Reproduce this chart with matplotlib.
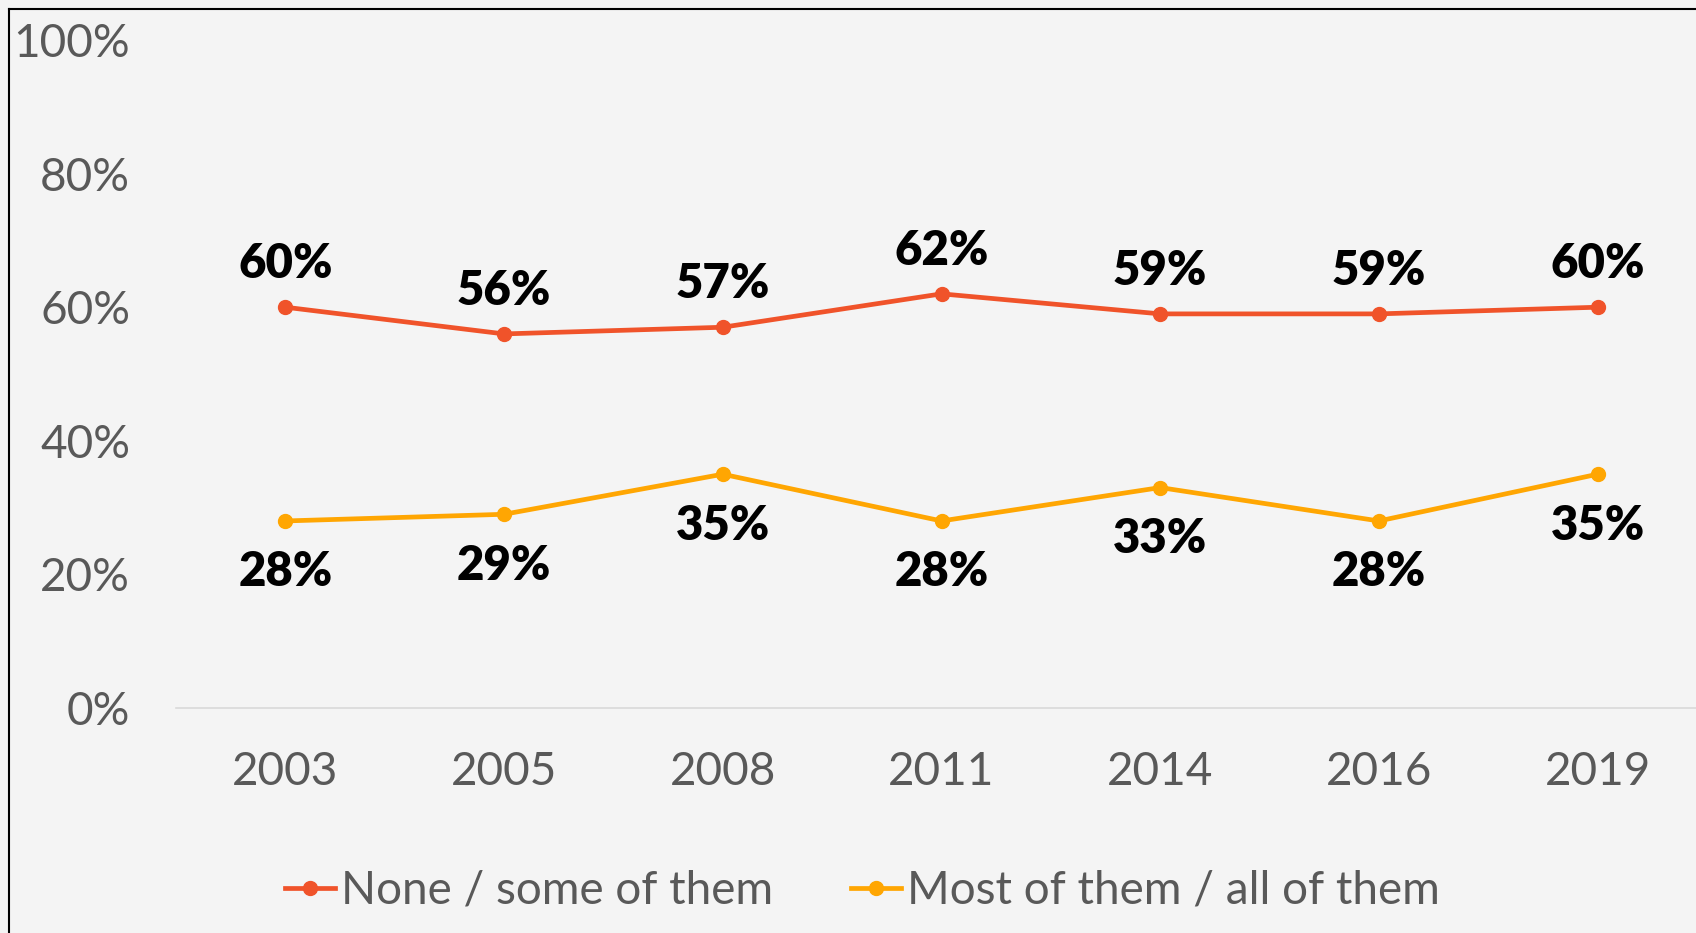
import matplotlib
matplotlib.use("Agg")
import matplotlib.pyplot as plt
from matplotlib.lines import Line2D

# survey results, share of respondents
years = ["2003", "2005", "2008", "2011", "2014", "2016", "2019"]
none_some = [60, 56, 57, 62, 59, 59, 60]
most_all = [28, 29, 35, 28, 33, 28, 35]
series_names = ["None / some of them", "Most of them / all of them"]
y_ticks = [0, 20, 40, 60, 80, 100]

red = "#F0532A"
orange = "#FFA602"
grey = "#595959"

plt.rcParams["font.family"] = ["Lato", "DejaVu Sans"]

fig = plt.figure(figsize=(16.96, 9.33), dpi=100)
fig.patch.set_facecolor("#F4F4F4")

W, H = 1696, 933
ax = fig.add_axes([176 / W, (H - 708) / H, (1707 - 176) / W, (708 - 40) / H])
ax.set_facecolor("none")

x = range(len(years))
ax.plot(x, none_some, color=red, lw=3.4, marker="o", ms=10, label=series_names[0])
ax.plot(x, most_all, color=orange, lw=3.4, marker="o", ms=10, label=series_names[1])

for i, v in enumerate(none_some):
    ax.annotate(f"{v}%", (i, v), xytext=(0, 31), textcoords="offset points",
                ha="center", va="center", fontsize=34, fontweight="heavy", color="black")
for i, v in enumerate(most_all):
    ax.annotate(f"{v}%", (i, v), xytext=(0, -37), textcoords="offset points",
                ha="center", va="center", fontsize=34, fontweight="heavy", color="black")

ax.set_xlim(-0.5, len(years) - 0.5)
ax.set_ylim(0, 100)
ax.set_xticks(list(x))
ax.set_xticklabels(years)
ax.set_yticks(y_ticks)
ax.set_yticklabels([f"{t}%" for t in y_ticks])
ax.tick_params(axis="both", length=0, labelsize=33, labelcolor=grey)
ax.tick_params(axis="x", pad=31)
ax.tick_params(axis="y", pad=33)

for s in ["top", "right", "left"]:
    ax.spines[s].set_visible(False)
ax.spines["bottom"].set_color("#D9D9D9")
ax.spines["bottom"].set_linewidth(1.2)

fig.legend(loc="center", bbox_to_anchor=(862 / W, 1 - 891 / H), ncol=2, frameon=False,
           fontsize=33, labelcolor=grey, handlelength=1.1, handletextpad=0.12,
           columnspacing=1.7)

# thin black frame along the left and top edges
fig.add_artist(Line2D([9 / W, 9 / W], [0, 1 - 9 / H], color="black", lw=1.5,
                      transform=fig.transFigure))
fig.add_artist(Line2D([9 / W, 1], [1 - 9 / H, 1 - 9 / H], color="black", lw=1.5,
                      transform=fig.transFigure))

fig.savefig("out.png", dpi=100, facecolor=fig.get_facecolor())
